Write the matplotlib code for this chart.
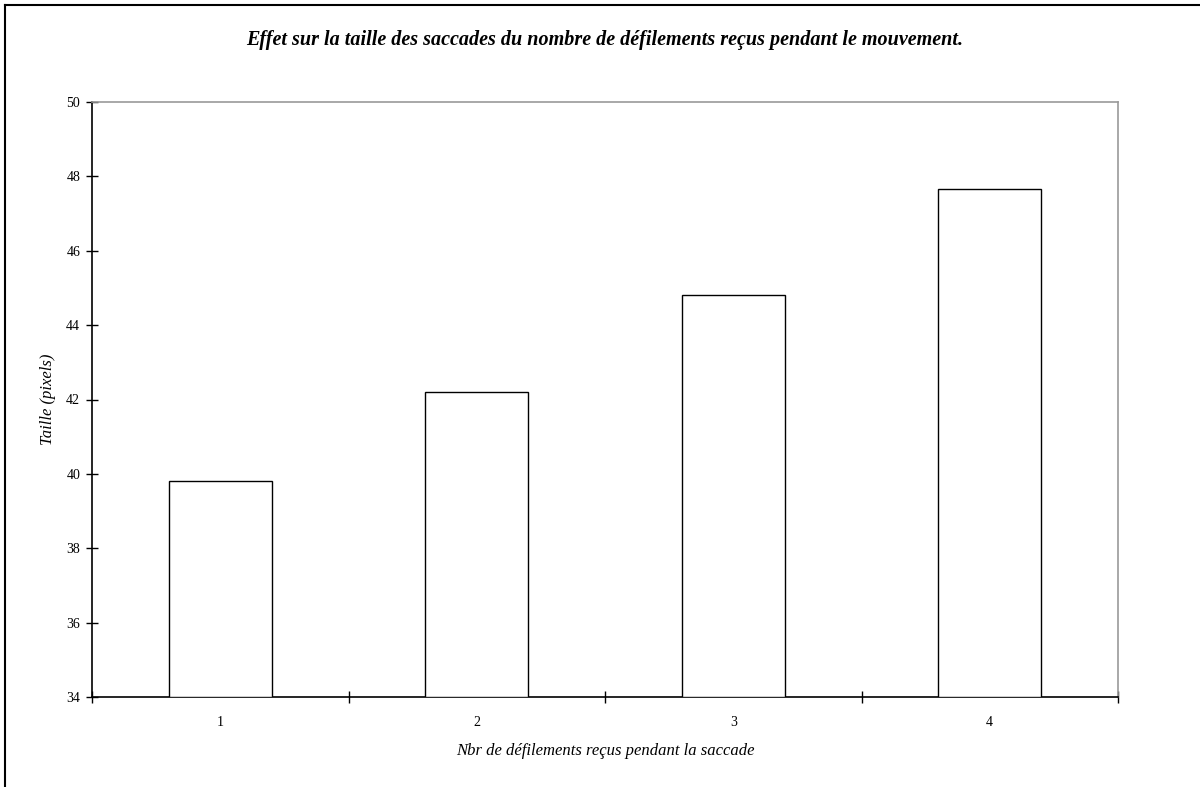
import matplotlib
matplotlib.use("Agg")
import matplotlib.pyplot as plt
from matplotlib.lines import Line2D

categories = ["1", "2", "3", "4"]
values = [39.8, 42.2, 44.8, 47.67]
yticks = [34, 36, 38, 40, 42, 44, 46, 48, 50]

title = "Effet sur la taille des saccades du nombre de défilements reçus pendant le mouvement."
xlabel = "Nbr de défilements reçus pendant la saccade"
ylabel = "Taille (pixels)"

plt.rcParams['font.family'] = ['Liberation Serif', 'DejaVu Serif']

fig = plt.figure(figsize=(12, 7.87), dpi=100)
ax = fig.add_axes([92/1200, 1-697/787, (1118-92)/1200, (697-102)/787])

x = list(range(len(categories)))
ax.bar(x, [v - 34 for v in values], bottom=34, width=0.4, color='white',
       edgecolor='black', linewidth=1.0, zorder=3)

ax.set_xlim(-0.5, len(categories) - 0.5)
ax.set_ylim(34, 50)
ax.set_yticks(yticks)
ax.set_yticklabels([str(t) for t in yticks], fontsize=10)
ax.set_xticks([i - 0.5 for i in range(len(categories) + 1)])
ax.set_xticklabels([])
ax.set_xticks(x, minor=True)
ax.set_xticklabels(categories, minor=True, fontsize=10)
ax.tick_params(axis='x', which='minor', length=0, pad=14)
ax.tick_params(axis='both', which='major', direction='inout', length=9, width=1, color='black')
ax.tick_params(axis='y', pad=4)

for s in ['left', 'bottom']:
    ax.spines[s].set_color('black')
    ax.spines[s].set_linewidth(1.2)
for s in ['top', 'right']:
    ax.spines[s].set_color('#999999')
    ax.spines[s].set_linewidth(1.2)

ax.set_xlabel(xlabel, fontsize=12, style='italic', labelpad=10)
ax.set_ylabel(ylabel, fontsize=12, style='italic', labelpad=7)

fig.text(605/1200, 1-40/787, title, ha='center', va='center', fontsize=14.5,
         style='italic', weight='bold')

# outer chart border
fig.add_artist(Line2D([5/1200, 5/1200], [0, 1-5/787], color='black', linewidth=1.5,
                      transform=fig.transFigure))
fig.add_artist(Line2D([5/1200, 1], [1-5/787, 1-5/787], color='black', linewidth=1.5,
                      transform=fig.transFigure))

fig.savefig("out.png", dpi=100)
